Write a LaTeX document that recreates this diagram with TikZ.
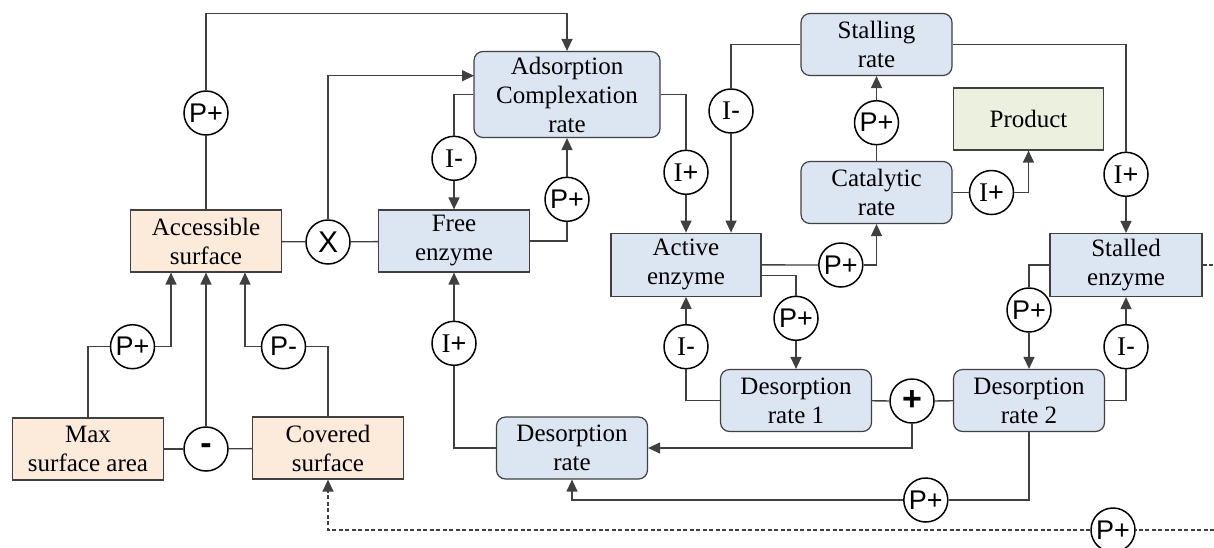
\documentclass[tikz,border=0pt]{standalone}
\usepackage{fontspec}
\setmainfont{Liberation Serif}
\setsansfont{Liberation Sans}
\usetikzlibrary{arrows.meta,calc}
\definecolor{peach}{RGB}{252,234,218}
\definecolor{lblue}{RGB}{220,230,242}
\definecolor{lgreen}{RGB}{235,241,222}
\definecolor{edgec}{RGB}{64,64,64}
\tikzset{
 box/.style={draw=edgec, line width=1.2pt, minimum width=151pt, minimum height=62pt, align=center, inner sep=1pt, font=\fontsize{25}{29}\selectfont},
 rnd/.style={box, rounded corners=9pt},
 sur/.style={fill=peach}, enz/.style={fill=lblue},
 op/.style={circle, draw=black, line width=1.5pt, minimum size=44pt, inner sep=0pt, font=\sffamily\fontsize{27}{27}\selectfont, fill=white},
 conn/.style={draw=edgec, line width=1.3pt},
 arr/.style={conn, -{Triangle[length=12pt,width=11pt]}},
 dsh/.style={conn, dash pattern=on 4pt off 2.5pt},
}
\newcommand{\Ilab}[1]{{\rmfamily I}#1}
\begin{document}
\begin{tikzpicture}[x=1pt,y=-1pt]
\useasboundingbox (0,0) rectangle (1214,547);
% boxes
\node[box,sur] (acc) at (206,241) {Accessible\\surface};
\node[box,enz] (free) at (454,241) {Free\\enzyme};
\node[rnd,enz,minimum width=186pt,minimum height=86pt] (ads) at (567,94.5) {Adsorption\\Complexation\\rate};
\node[rnd,enz] (stall) at (876.5,44.5) {Stalling\\rate};
\node[box,fill=lgreen,minimum width=150pt] (prod) at (1028.5,119) {Product};
\node[rnd,enz] (cat) at (876.5,192.5) {Catalytic\\rate};
\node[box,enz,minimum width=150pt,minimum height=63pt] (act) at (686,264.7) {Active\\enzyme};
\node[box,enz,minimum width=152pt,minimum height=63pt] (stalled) at (1126,265) {Stalled\\enzyme};
\node[rnd,enz] (d1) at (796,400.5) {Desorption\\rate 1};
\node[rnd,enz] (d2) at (1029,400.5) {Desorption\\rate 2};
\node[rnd,enz] (des) at (572,448) {Desorption\\rate};
\node[box,sur] (max) at (88,449) {Max\\surface area};
\node[box,sur] (cov) at (328,448) {Covered\\surface};
% operators
\node[op] (c1) at (206,113) {P+};
\node[op,font=\sffamily\fontsize{30}{30}\selectfont] (cX) at (328,242) {X};
\node[op] (c2) at (454,158.3) {\Ilab{-}};
\node[op] (c3) at (567,199.3) {P+};
\node[op] (c4) at (686,172.3) {\Ilab{+}};
\node[op] (c5) at (731,111) {\Ilab{-}};
\node[op] (c6) at (876.5,122.7) {P+};
\node[op] (c7) at (991.5,192.5) {\Ilab{+}};
\node[op] (c8) at (1126,174.3) {\Ilab{+}};
\node[op] (c9) at (840.8,265) {P+};
\node[op] (c10) at (796,318.3) {P+};
\node[op] (c11) at (686,346.7) {\Ilab{-}};
\node[op,font=\sffamily\bfseries\fontsize{34}{34}\selectfont] (cplus) at (912,401) {+};
\node[op] (c12) at (1029,310) {P+};
\node[op] (c13) at (1126,346.7) {\Ilab{-}};
\node[op] (c14) at (925.8,500) {P+};
\node[op] (c15) at (1113,530) {P+};
\node[op] (c16) at (132.5,346.7) {P+};
\node[op,font=\sffamily\bfseries\fontsize{34}{34}\selectfont] (cminus) at (206,449) {-};
\node[op] (c17) at (283.5,346.7) {P-};
\node[op] (c18) at (454,343.3) {\Ilab{+}};
% helper coordinates
\coordinate (t1) at (206,13.3);
\coordinate (a1) at (474,75.7);
\coordinate (e1) at (1214,265);
\coordinate (e2) at (1214,530);
% connectors
\draw[conn] (acc) -- (c1);
\draw[arr] (c1) -- (t1) -| (ads);
\draw[conn] (acc) -- (cX);
\draw[conn] (cX) -- (free);
\draw[arr] (cX) |- (a1);
\draw[conn] (ads) -| (c2);
\draw[arr] (c2) -- (free);
\draw[conn] (free) -| (c3);
\draw[arr] (c3) -- (ads);
\draw[conn] (ads) -| (c4);
\draw[arr] (c4) -- (act);
\draw[conn] (stall) -| (c5);
\draw[arr] (c5) -- (c5 |- act.north);
\draw[conn] (stall) -| (c8);
\draw[arr] (c8) -- (stalled);
\draw[conn] (cat) -- (c6);
\draw[arr] (c6) -- (stall);
\draw[conn] (cat) -- (c7);
\draw[arr] (c7) -| (prod);
\draw[conn] (act) -- (c9);
\draw[arr] (c9) -| (cat);
\draw[conn] ($(act.east)+(0,11)$) -| (c10);
\draw[arr] (c10) -- (d1);
\draw[conn] (d1) -| (c11);
\draw[arr] (c11) -- (act);
\draw[conn] (d1) -- (cplus);
\draw[conn] (cplus) -- (d2);
\draw[arr] (cplus) |- (des);
\draw[conn] (d2) -| (c13);
\draw[arr] (c13) -- (stalled);
\draw[conn] (stalled) -| (c12);
\draw[arr] (c12) -- (d2);
\draw[conn] (d2) |- (c14);
\draw[arr] (c14) -| (des);
\draw[dsh] (stalled) -- (e1);
\draw[dsh] (e2) -- (c15);
\draw[dsh,-{Triangle[length=12pt,width=11pt]}] (c15) -| (cov);
\draw[conn] (des) -| (c18);
\draw[arr] (c18) -- (free);
\draw[conn] (max) |- (c16);
\draw[arr] (c16) -| ($(acc.south)+(-35,0)$);
\draw[conn] (max) -- (cminus);
\draw[conn] (cminus) -- (cov);
\draw[arr] (cminus) -- (acc);
\draw[conn] (cov) |- (c17);
\draw[arr] (c17) -| ($(acc.south)+(39,0)$);
\end{tikzpicture}
\end{document}
